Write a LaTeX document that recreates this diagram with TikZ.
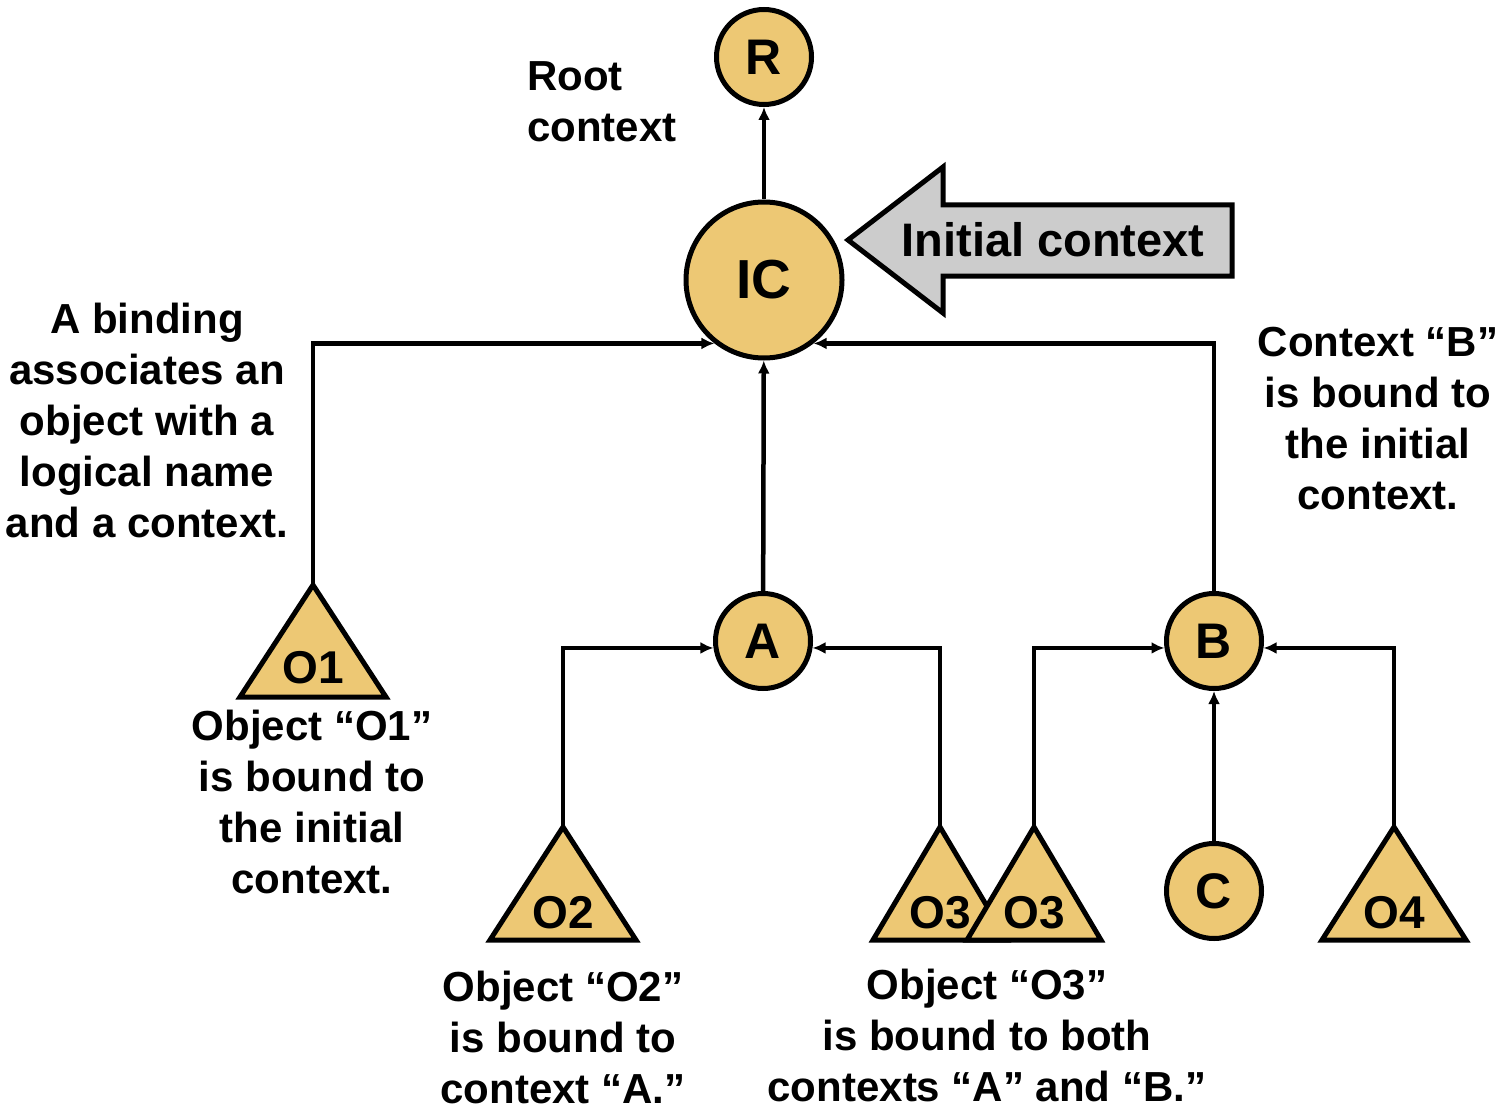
\documentclass[tikz,border=0pt]{standalone}
\usepackage{fontspec}
\setmainfont{Liberation Sans}
\usetikzlibrary{arrows.meta}
\definecolor{nodefill}{RGB}{237,200,116}
\definecolor{arrowgray}{RGB}{204,204,204}
\begin{document}
\begin{tikzpicture}[x=1pt,y=-1pt,
  ctx/.style={circle,draw,line width=5pt,fill=nodefill,inner sep=0pt,minimum size=95pt,font=\bfseries\fontsize{50}{60}\selectfont},
  tri/.style={draw,line width=5pt,fill=nodefill,line join=miter},
  trilabel/.style={font=\bfseries\fontsize{46}{50}\selectfont,inner sep=0pt},
  lbl/.style={align=center,font=\bfseries\fontsize{42}{51}\selectfont,inner sep=0pt},
  conn/.style={line width=4.5pt,-{Latex[length=13pt,width=12pt]}},
  bigarrow/.style={draw,line width=5pt,fill=arrowgray,line join=miter}
]
\useasboundingbox (0,0) rectangle (1499,1110);

% context nodes
\node[ctx] (r) at (764,57) {R};
\node[ctx,minimum size=156pt,font=\bfseries\fontsize{55}{60}\selectfont] (ic) at (764,280) {IC};
\node[ctx] (a) at (763,641) {A};
\node[ctx] (b) at (1214,641) {B};
\node[ctx] (c) at (1214,891) {C};

% initial context arrow
\draw[bigarrow] (848,240) -- (943,167) -- (943,205) -- (1232,205) -- (1232,276) -- (943,276) -- (943,313) -- cycle;
\node[font=\bfseries\fontsize{47}{50}\selectfont,inner sep=0pt] (iclabel) at (1053,240) {Initial context};

% object triangles
\coordinate (o1) at (313,585);
\draw[tri] (o1) -- ++(-73,112) -- ++(146,0) -- cycle;
\node[trilabel] (o1t) at (313,668) {O1};

\coordinate (o2) at (563,827);
\draw[tri] (o2) -- ++(-73,113) -- ++(146,0) -- cycle;
\node[trilabel] (o2t) at (563,913) {O2};

\coordinate (o3a) at (940,827);
\draw[tri] (o3a) -- ++(-67,113) -- ++(134,0) -- cycle;
\node[trilabel] (o3at) at (940,913) {O3};

\coordinate (o3b) at (1034,827);
\draw[tri] (o3b) -- ++(-67,113) -- ++(134,0) -- cycle;
\node[trilabel] (o3bt) at (1034,913) {O3};

\coordinate (o4) at (1394,827);
\draw[tri] (o4) -- ++(-72,113) -- ++(144,0) -- cycle;
\node[trilabel] (o4t) at (1394,913) {O4};

% connectors
\draw[conn] (ic) -- (r);
\draw[conn] (a) -- (ic);
\draw[conn] (o1) |- (ic.232);
\draw[conn] (b) |- (ic.308);
\draw[conn] (o2) |- (a.188);
\draw[conn] (o3a) |- (a.352);
\draw[conn] (o3b) |- (b.188);
\draw[conn] (o4) |- (b.352);
\draw[conn] (c) -- (b);

% labels
\node[lbl,align=left,anchor=west] (roottxt) at (527,102) {Root\\context};
\node[lbl] (bindtxt) at (147,420) {A binding\\associates an\\object with a\\logical name\\and a context.};
\node[lbl] (o1txt) at (312,802) {Object “O1”\\is bound to\\the initial\\context.};
\node[lbl] (o2txt) at (563,1037) {Object “O2”\\is bound to\\context “A.”};
\node[lbl] (o3txt) at (987,1035) {Object “O3”\\is bound to both\\contexts “A” and “B.”};
\node[lbl] (btxt) at (1378,419) {Context “B”\\is bound to\\the initial\\context.};
\end{tikzpicture}
\end{document}
